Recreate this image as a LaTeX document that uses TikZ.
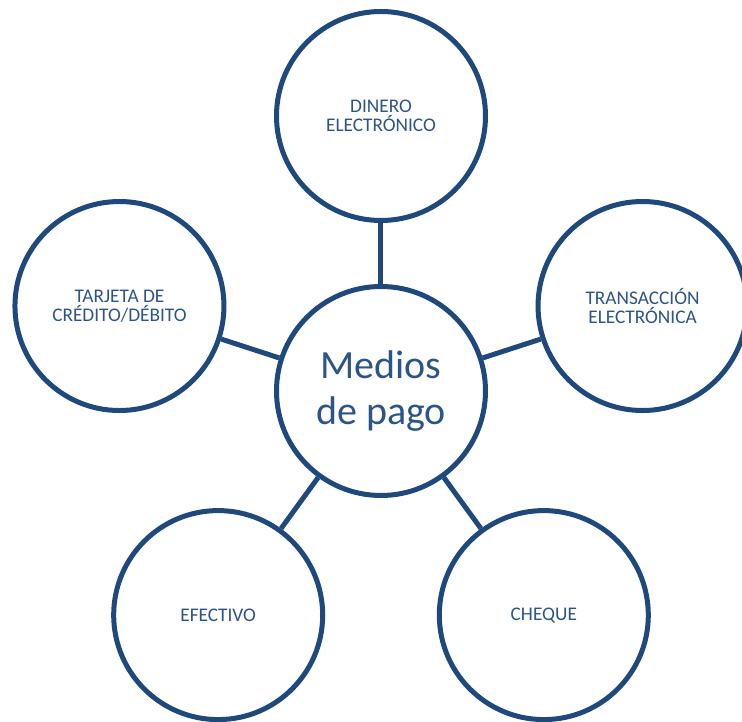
\documentclass[tikz,border=0pt]{standalone}
\usepackage{fontspec}
\setmainfont{Carlito}
\usepackage{tikz}
\usetikzlibrary{positioning}
\usepackage{xcolor}
\definecolor{navy}{HTML}{1F497D}
\definecolor{navytext}{HTML}{2B5489}

\begin{document}
\begin{tikzpicture}[x=1pt, y=1pt,
  hub/.style = {draw=navy, line width=5pt, circle, minimum size=209pt, inner sep=0pt, align=center, text=navytext, font=\fontsize{40}{46}\selectfont},
  item/.style = {draw=navy, line width=5pt, circle, minimum size=209pt, inner sep=0pt, align=center, text=navytext, font=\fontsize{19.3}{19}\selectfont},
  link/.style = {draw=navy, line width=5pt}]
\useasboundingbox (-381,-331) rectangle (361,391);
\node[hub] (mp) at (0,0) {Medios\\de pago};
\node[item] (dinero) at (90:275) {DINERO\\ELECTRÓNICO};
\node[item] (trans) at (18:275) {TRANSACCIÓN\\ELECTRÓNICA};
\node[item] (tarjeta) at (162:275) {TARJETA DE\\CRÉDITO/DÉBITO};
\node[item] (efectivo) at (234:277) {EFECTIVO};
\node[item] (cheque) at (306:277) {CHEQUE};
\path (mp) edge [link] (dinero);
\path (mp) edge [link] (trans);
\path (mp) edge [link] (tarjeta);
\path (mp) edge [link] (efectivo);
\path (mp) edge [link] (cheque);
\end{tikzpicture}
\end{document}
